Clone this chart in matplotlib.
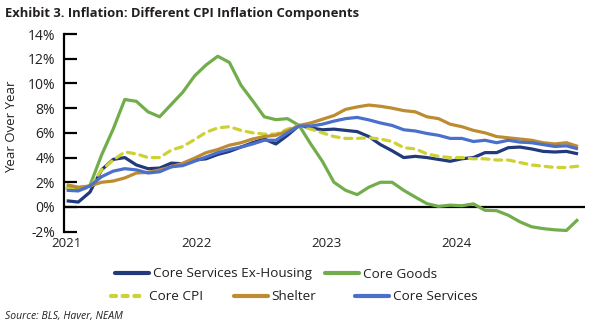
import numpy as np
import matplotlib
matplotlib.use("Agg")
import matplotlib.pyplot as plt
from matplotlib.lines import Line2D

plt.rcParams['font.family'] = ['Open Sans', 'DejaVu Sans']

# monthly, Jan 2021 .. Sep 2024 (YoY %)
years = ['2021', '2022', '2023', '2024']

core_svc_ex_housing = [0.5, 0.4, 1.2, 3.0, 3.85, 4.0, 3.4, 3.1, 3.15, 3.55, 3.5, 3.8,
                       3.9, 4.25, 4.5, 4.85, 5.2, 5.5, 5.1, 5.8, 6.6, 6.4, 6.25, 6.3,
                       6.2, 6.1, 5.7, 5.05, 4.55, 4.0, 4.1, 4.0, 3.85, 3.7, 3.9, 4.0,
                       4.4, 4.4, 4.8, 4.85, 4.7, 4.5, 4.45, 4.5, 4.3]
core_goods = [1.67, 1.4, 1.73, 4.2, 6.3, 8.7, 8.55, 7.7, 7.3, 8.3, 9.3, 10.6,
              11.5, 12.2, 11.7, 9.85, 8.6, 7.3, 7.07, 7.15, 6.6, 5.1, 3.7, 2.0,
              1.35, 1.0, 1.6, 2.0, 2.0, 1.35, 0.8, 0.27, 0.05, 0.15, 0.1, 0.25,
              -0.27, -0.3, -0.67, -1.2, -1.6, -1.75, -1.85, -1.9, -1.0]
core_cpi = [1.5, 1.35, 1.6, 3.0, 3.8, 4.45, 4.3, 4.0, 4.0, 4.6, 4.9, 5.45,
            6.05, 6.4, 6.5, 6.2, 6.0, 5.9, 5.9, 6.3, 6.6, 6.3, 6.0, 5.7,
            5.55, 5.55, 5.6, 5.5, 5.3, 4.8, 4.7, 4.3, 4.1, 4.0, 4.0, 3.9,
            3.9, 3.8, 3.8, 3.6, 3.4, 3.3, 3.2, 3.2, 3.3]
shelter = [1.8, 1.6, 1.7, 2.0, 2.1, 2.35, 2.75, 2.8, 3.0, 3.25, 3.55, 3.95,
           4.4, 4.65, 5.0, 5.2, 5.5, 5.7, 5.8, 6.15, 6.6, 6.8, 7.1, 7.4,
           7.9, 8.1, 8.25, 8.15, 8.0, 7.8, 7.7, 7.3, 7.15, 6.7, 6.5, 6.2,
           6.0, 5.7, 5.6, 5.5, 5.4, 5.2, 5.1, 5.2, 4.9]
core_services = [1.35, 1.3, 1.7, 2.45, 2.9, 3.1, 3.0, 2.75, 2.85, 3.25, 3.35, 3.7,
                 4.05, 4.4, 4.65, 4.85, 5.1, 5.4, 5.4, 6.0, 6.55, 6.55, 6.7, 6.95,
                 7.15, 7.25, 7.05, 6.8, 6.6, 6.25, 6.15, 5.95, 5.8, 5.55, 5.55, 5.3,
                 5.4, 5.2, 5.4, 5.25, 5.2, 5.05, 4.9, 4.95, 4.7]

series = [
    ("Core Services Ex-Housing", core_svc_ex_housing, "#22397c", "-"),
    ("Core Goods", core_goods, "#72ad4c", "-"),
    ("Core CPI", core_cpi, "#cdd234", (0, (2.2, 1.8))),
    ("Shelter", shelter, "#bd8b30", "-"),
    ("Core Services", core_services, "#4a70cc", "-"),
]
txt_col = '#231f20'

W, H = 599, 330
fig = plt.figure(figsize=(W / 100, H / 100), dpi=100)
ax = fig.add_axes([64 / W, 1 - 231.7 / H, (585 - 64) / W, (231.7 - 34) / H])

x = np.arange(len(core_goods))
for name, vals, col, ls in series:
    ax.plot(x, vals, color=col, lw=2.3, ls=ls, solid_capstyle='butt',
            dash_capstyle='round')

ax.axhline(0, color='black', lw=1.6, zorder=1)
ax.set_xlim(-0.23, 44.6)
ax.set_ylim(-2, 14)
ax.set_yticks(np.arange(-2, 15, 2))
ax.set_yticklabels([f"{v}%" for v in range(-2, 15, 2)])
ax.set_xticks(np.arange(4) * 11.19)
ax.set_xticklabels(years)

for s in ['top', 'right', 'bottom']:
    ax.spines[s].set_visible(False)
ax.spines['left'].set_linewidth(1.6)
ax.tick_params(axis='y', direction='in', length=9, width=1.6, labelsize=10,
               pad=6.5, colors='black', labelcolor=txt_col)
ax.tick_params(axis='x', length=0, labelsize=9.5, pad=4, labelcolor=txt_col)

fig.text(12 / W, 1 - 127 / H, "Year Over Year", rotation=90, ha='center',
         va='center', fontsize=9.5, color=txt_col)
fig.text(5 / W, 1 - 14 / H, "Exhibit 3. Inflation: Different CPI Inflation Components",
         ha='left', va='center', fontsize=9.4, fontweight='bold', color=txt_col)
fig.text(5 / W, 1 - 317 / H, "Source: BLS, Haver, NEAM", ha='left', va='center',
         fontsize=7.5, style='italic', color=txt_col)

# legend entries placed one by one (rows are not aligned in a grid)
legend_pos = [(115, 274), (325, 274), (111, 297), (234, 297), (355, 297)]
for (name, vals, col, ls), (px, py) in zip(series, legend_pos):
    h = Line2D([], [], color=col, lw=3, ls=ls if ls == '-' else (0, (1.2, 1.6)),
               solid_capstyle='round', dash_capstyle='round')
    lg = fig.legend([h], [name], loc='center left',
                    bbox_to_anchor=(px / W, 1 - py / H), frameon=False,
                    fontsize=9.7, handlelength=2.5, handletextpad=0.3,
                    borderpad=0, borderaxespad=0)
    for t in lg.get_texts():
        t.set_color(txt_col)

fig.savefig("out.png", dpi=100)
